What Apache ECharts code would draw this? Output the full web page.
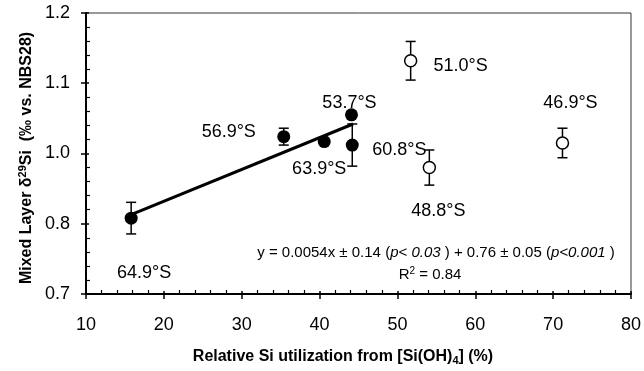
<!DOCTYPE html>
<html>
<head>
<meta charset="utf-8">
<script src="https://cdn.jsdelivr.net/npm/echarts@6/dist/echarts.min.js"></script>
<style>
  html, body { margin: 0; padding: 0; background: #fff; }
  #graph { width: 644px; height: 371px; }
</style>
</head>
<body>
<div id="graph"></div>
<script>
// filled circles (with the regression)
var filledNames = ['64.9°S', '56.9°S', '63.9°S', '53.7°S', '60.8°S'];
var filledX = [15.8, 35.4, 40.6, 44.1, 44.2];
var filledY = [0.908, 1.024, 1.017, 1.055, 1.012];
var filledErr = [0.0225, 0.012, 0, 0, 0.030];

// open circles
var openNames = ['51.0°S', '48.8°S', '46.9°S'];
var openX = [51.7, 54.1, 71.2];
var openY = [1.132, 0.980, 1.015];
var openErr = [0.0275, 0.025, 0.021];

// regression line end points
var fitX = [15.8, 44.3];
var fitY = [0.913, 1.042];

// y axis ticks as printed on the figure (0.9 is labelled 0.8 there)
var yTickValues = [0.8, 0.9, 1.0, 1.1, 1.2];
var yTickLabels = ['0.7', '0.8', '1.0', '1.1', '1.2'];

var font = 'Liberation Sans, Arial, sans-serif';

// label offsets from each point, px
var labelOffsets = {
  '64.9°S': [13, 55],
  '56.9°S': [-55, -5],
  '63.9°S': [-5, 27],
  '53.7°S': [-2, -12],
  '60.8°S': [47, 5],
  '51.0°S': [50, 5],
  '48.8°S': [9, 43],
  '46.9°S': [8, -40]
};

function pointData(names, xs, ys) {
  return names.map(function (n, i) {
    return {
      name: n,
      value: [xs[i], ys[i]],
      label: { offset: labelOffsets[n] }
    };
  });
}

function errData(xs, ys, errs) {
  var out = [];
  for (var i = 0; i < xs.length; i++) {
    if (errs[i] > 0) out.push([xs[i], ys[i] - errs[i], ys[i] + errs[i]]);
  }
  return out;
}

function renderErr(params, api) {
  var lo = api.coord([api.value(0), api.value(1)]);
  var hi = api.coord([api.value(0), api.value(2)]);
  var w = 5;
  var st = { stroke: '#000', lineWidth: 1.5 };
  return {
    type: 'group',
    children: [
      { type: 'line', shape: { x1: lo[0], y1: lo[1], x2: hi[0], y2: hi[1] }, style: st },
      { type: 'line', shape: { x1: lo[0] - w, y1: lo[1], x2: lo[0] + w, y2: lo[1] }, style: st },
      { type: 'line', shape: { x1: hi[0] - w, y1: hi[1], x2: hi[0] + w, y2: hi[1] }, style: st }
    ]
  };
}

var dom = document.getElementById('graph');
var myChart = echarts.init(dom);

var xBase = {
  type: 'value', min: 10, max: 80, interval: 10,
  splitLine: { show: false }
};
var yBase = {
  type: 'value', min: 0.8, max: 1.2, interval: 0.1,
  splitLine: { show: false }
};

var pointLabel = {
  show: true,
  formatter: '{b}',
  position: 'inside',
  fontFamily: font,
  fontSize: 18,
  color: '#000'
};

// second axis of each pair draws the inward ticks
var tickIn = { inside: true, length: 3, lineStyle: { color: '#000', width: 1.5 } };
var minorIn = { show: true, splitNumber: 5, length: 4, lineStyle: { color: '#000', width: 1.2 } };

var option = {
  animation: false,
  backgroundColor: '#fff',
  grid: {
    left: 86, right: 10, top: 13, bottom: 77,
    show: true, borderColor: '#333', borderWidth: 1
  },
  xAxis: [
    Object.assign({}, xBase, {
      axisLine: { lineStyle: { color: '#000', width: 2 } },
      axisTick: { inside: false, length: 5, lineStyle: { color: '#000', width: 1.5 } },
      axisLabel: { margin: 22, fontFamily: font, fontSize: 18, color: '#000' }
    }),
    Object.assign({}, xBase, {
      position: 'bottom',
      axisLine: { show: false },
      axisTick: tickIn,
      minorTick: minorIn,
      axisLabel: { show: false }
    })
  ],
  yAxis: [
    Object.assign({}, yBase, {
      axisLine: { lineStyle: { color: '#000', width: 2 } },
      axisTick: { inside: false, length: 5, lineStyle: { color: '#000', width: 1.5 } },
      axisLabel: {
        margin: 16, fontFamily: font, fontSize: 18, color: '#000',
        formatter: function (v) {
          var i = Math.round((v - yTickValues[0]) / 0.1);
          return yTickLabels[i];
        }
      }
    }),
    Object.assign({}, yBase, {
      position: 'left',
      axisLine: { show: false },
      axisTick: tickIn,
      minorTick: minorIn,
      axisLabel: { show: false }
    })
  ],
  graphic: [
    {
      type: 'text', x: 343, y: 357,
      style: {
        text: 'Relative Si utilization from [Si(OH){sub|4}] (%)',
        align: 'center', verticalAlign: 'middle',
        font: 'bold 16px ' + font, fill: '#000',
        rich: { sub: { fontSize: 11, fontWeight: 'bold', fontFamily: font, padding: [8, 0, 0, 0] } }
      }
    },
    {
      type: 'text', x: 27, y: 158, rotation: Math.PI / 2,
      style: {
        text: 'Mixed Layer δ{sup|29}Si  (‰ vs. NBS28)',
        align: 'center', verticalAlign: 'middle',
        font: 'bold 16px ' + font, fill: '#000',
        rich: { sup: { fontSize: 11, fontWeight: 'bold', fontFamily: font, padding: [0, 0, 8, 0] } }
      }
    },
    {
      type: 'text', x: 436, y: 253,
      style: {
        text: 'y = 0.0054x ± 0.14 ({i|p}< {i|0.03} ) + 0.76 ± 0.05 ({i|p}{i|<0.001} )',
        align: 'center', verticalAlign: 'middle',
        font: '15px ' + font, fill: '#000',
        rich: { i: { fontStyle: 'italic', fontSize: 15, fontFamily: font } }
      }
    },
    {
      type: 'text', x: 430, y: 275,
      style: {
        text: 'R{sup|2} = 0.84',
        align: 'center', verticalAlign: 'middle',
        font: '15px ' + font, fill: '#000',
        rich: { sup: { fontSize: 10, fontFamily: font, padding: [0, 0, 8, 0] } }
      }
    }
  ],
  series: [
    {
      type: 'custom', renderItem: renderErr, z: 1,
      data: errData(filledX, filledY, filledErr)
    },
    {
      type: 'custom', renderItem: renderErr, z: 1,
      data: errData(openX, openY, openErr)
    },
    {
      type: 'line', z: 2, symbol: 'none',
      lineStyle: { color: '#000', width: 3 },
      data: fitX.map(function (x, i) { return [x, fitY[i]]; })
    },
    {
      type: 'scatter', z: 3, symbol: 'circle', symbolSize: 13,
      itemStyle: { color: '#000', opacity: 1 },
      label: pointLabel,
      data: pointData(filledNames, filledX, filledY)
    },
    {
      type: 'scatter', z: 3, symbol: 'circle', symbolSize: 12,
      itemStyle: { color: '#fff', borderColor: '#000', borderWidth: 1.5, opacity: 1 },
      label: pointLabel,
      data: pointData(openNames, openX, openY)
    }
  ]
};

myChart.setOption(option);
</script>
</body>
</html>
